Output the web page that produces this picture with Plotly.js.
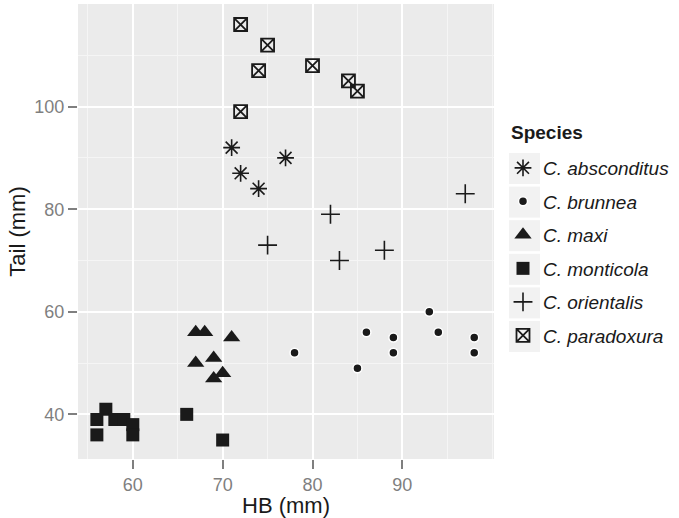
<!DOCTYPE html>
<html><head><meta charset="utf-8">
<script src="https://cdn.plot.ly/plotly-3.0.1.min.js"></script>
<style>body{margin:0;background:#fff}#chart{width:679px;height:518px}</style>
</head><body><div id="chart"></div>
<script>
const species = ["C. absconditus","C. brunnea","C. maxi","C. monticola","C. orientalis","C. paradoxura"];
const absconditusHB = [71, 77, 72, 74];
const absconditusTail = [92, 90, 87, 84];
const brunneaHB = [78, 85, 86, 89, 89, 93, 94, 98, 98];
const brunneaTail = [52, 49, 56, 55, 52, 60, 56, 55, 52];
const maxiHB = [67, 68, 71, 67, 69, 70, 69];
const maxiTail = [56, 56, 55, 50, 51, 48, 47];
const monticolaHB = [57, 56, 58, 59, 60, 60, 56, 66, 70];
const monticolaTail = [41, 39, 39, 39, 38, 36, 36, 40, 35];
const orientalisHB = [97, 82, 75, 88, 83];
const orientalisTail = [83, 79, 73, 72, 70];
const paradoxuraHB = [72, 75, 74, 80, 84, 85, 72];
const paradoxuraTail = [116, 112, 107, 108, 105, 103, 99];
const xTicks = [60, 70, 80, 90];
const yTicks = [40, 60, 80, 100];

const ink = '#1a1a1a';
function tr(i, x, y, marker){
  return {type:'scatter', mode:'markers', name:'<i>'+species[i]+'</i>', legendgroup:'g'+i,
    x:x, y:y, marker:marker, cliponaxis:false, hoverinfo:'skip'};
}
const data = [
  tr(0, absconditusHB, absconditusTail, {symbol:'asterisk-open', size:14, color:ink, line:{color:ink, width:1.6}}),
  tr(1, brunneaHB, brunneaTail, {symbol:'circle', size:9, color:ink, line:{color:'#ffffff', width:1.5}}),
  tr(2, maxiHB, maxiTail, {symbol:'triangle-up', size:15, color:ink, line:{width:0}}),
  tr(3, monticolaHB, monticolaTail, {symbol:'square', size:13, color:ink, line:{width:0}}),
  tr(4, orientalisHB, orientalisTail, {symbol:'cross-thin-open', size:13.5, color:ink, line:{color:ink, width:1.6}}),
  tr(5, paradoxuraHB, paradoxuraTail, {symbol:'square-x-open', size:13, color:ink, line:{color:ink, width:1.8}})
];

const font = 'Liberation Sans, Arial, sans-serif';
const tickFont = {family:font, size:18, color:'#7f7f7f'};
const axisCommon = {
  showline:false, zeroline:false, gridcolor:'#ffffff', gridwidth:2,
  ticks:'outside', ticklen:9, tickwidth:2, tickcolor:'#7f7f7f',
  tickfont:tickFont, automargin:false
};
const shapes = [];
const boxTop = 153, boxH = 31, boxStep = 33.6;
for (let i = 0; i < species.length; i++) {
  const y0px = boxTop + i*boxStep;
  shapes.push({type:'rect', xref:'paper', yref:'paper', layer:'below',
    x0:(509-78)/416, x1:(540-78)/416,
    y0:(459-(y0px+boxH))/455, y1:(459-y0px)/455,
    fillcolor:'#f2f2f2', line:{width:0}});
}

const layout = {
  width:679, height:518,
  margin:{l:78, r:185, t:4, b:59},
  paper_bgcolor:'#ffffff', plot_bgcolor:'#ebebeb',
  font:{family:font, color:ink},
  showlegend:true,
  xaxis: Object.assign({}, axisCommon, {
    range:[53.9, 100.2], tickvals:xTicks, ticktext:xTicks.map(String),
    minor:{dtick:5, tick0:55, showgrid:true, gridcolor:'#f5f5f5', gridwidth:1, ticks:''},
    title:{text:'HB (mm)', font:{family:font, size:22, color:ink}, standoff:6}
  }),
  yaxis: Object.assign({}, axisCommon, {
    range:[31.3, 120], tickvals:yTicks, ticktext:yTicks.map(String),
    minor:{dtick:10, tick0:30, showgrid:true, gridcolor:'#f5f5f5', gridwidth:1, ticks:''},
    title:{text:'Tail (mm)', font:{family:font, size:22, color:ink}, standoff:2}
  }),
  legend:{
    x:(503-78)/416, xanchor:'left', y:(459-149)/455, yanchor:'top',
    bgcolor:'rgba(0,0,0,0)', borderwidth:0,
    font:{family:font, size:19, color:ink},
    tracegroupgap:5.8, itemclick:false, itemdoubleclick:false
  },
  annotations:[{
    text:'<b>Species</b>', xref:'paper', yref:'paper',
    x:(509-78)/416, xanchor:'left', y:(459-132)/455, yanchor:'middle',
    showarrow:false, font:{family:font, size:19, color:ink}
  }],
  shapes:shapes
};
Plotly.newPlot('chart', data, layout, {staticPlot:true});
</script></body></html>
